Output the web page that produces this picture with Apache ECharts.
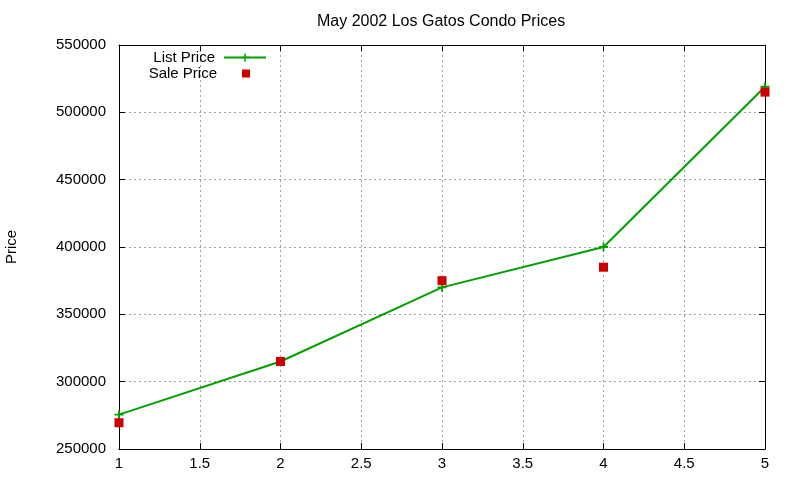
<!DOCTYPE html>
<html>
<head>
<meta charset="utf-8">
<script src="https://cdn.jsdelivr.net/npm/echarts@6/dist/echarts.min.js"></script>
<style>
  html, body { margin: 0; padding: 0; background: #fff; }
  #chart { width: 800px; height: 480px; }
</style>
</head>
<body>
<div id="chart"></div>
<script>
// condo prices
const units = [1, 2, 3, 4, 5]
const listPrice = [275500, 315000, 370000, 400000, 519000]
const salePrice = [269500, 315000, 375000, 385000, 515000]

const FONT = '"Liberation Sans", Arial, sans-serif'
const plus = 'path://M4,0h2v4h4v2h-4v4h-2v-4h-4v-2h4z'

let chart = echarts.init(document.getElementById('chart'))

let gridLine = {
    show: true,
    lineStyle: { color: '#a0a0a0', type: [2, 3], width: 1 }
}
let mirror = {
    axisLine: { show: true, lineStyle: { color: '#000' } },
    axisTick: { show: true, inside: true, length: 6, lineStyle: { color: '#000' } },
    axisLabel: { show: false },
    splitLine: { show: false }
}

let option = {
    animation: false,
    backgroundColor: '#fff',
    title: {
        text: 'May 2002 Los Gatos Condo Prices',
        left: 312,
        top: 9,
        textStyle: { fontFamily: FONT, fontSize: 16, fontWeight: 'normal', color: '#000' }
    },
    legend: [{
        data: ['List Price'],
        right: 533,
        top: 50,
        align: 'right',
        itemWidth: 42,
        itemHeight: 10,
        padding: 0,
        textStyle: { fontFamily: FONT, fontSize: 15, color: '#000', padding: [0, 4, 0, 0] }
    }, {
        data: ['Sale Price'],
        right: 550,
        top: 66,
        align: 'right',
        itemWidth: 8,
        itemHeight: 8,
        padding: 0,
        textStyle: { fontFamily: FONT, fontSize: 15, color: '#000', padding: [0, 20, 0, 0] }
    }],
    grid: { left: 119, right: 35, top: 45, bottom: 31, outerBoundsMode: 'none', containLabel: false },
    xAxis: [{
        type: 'value',
        min: 1, max: 5, interval: 0.5,
        axisLine: { show: true, onZero: false, lineStyle: { color: '#000' } },
        axisTick: { show: true, inside: true, length: 6, lineStyle: { color: '#000' } },
        axisLabel: { fontFamily: FONT, fontSize: 15, color: '#000', margin: 7 },
        splitLine: gridLine
    }, Object.assign({ type: 'value', position: 'top', min: 1, max: 5, interval: 0.5 }, mirror)],
    yAxis: [{
        type: 'value',
        min: 250000, max: 550000, interval: 50000,
        name: 'Price',
        nameLocation: 'middle',
        nameGap: 100,
        nameTextStyle: { fontFamily: FONT, fontSize: 15, color: '#000' },
        axisLine: { show: true, onZero: false, lineStyle: { color: '#000' } },
        axisTick: { show: true, inside: true, length: 6, lineStyle: { color: '#000' } },
        axisLabel: {
            fontFamily: FONT, fontSize: 15, color: '#000', margin: 13,
            formatter: v => String(v)
        },
        splitLine: gridLine
    }, Object.assign({ type: 'value', position: 'right', min: 250000, max: 550000, interval: 50000 }, mirror)],
    series: [{
        name: 'List Price',
        type: 'line',
        data: units.map((u, i) => [u, listPrice[i]]),
        symbol: plus,
        symbolSize: 9,
        showAllSymbol: true,
        lineStyle: { color: '#00a000', width: 2 },
        itemStyle: { color: '#00a000' }
    }, {
        name: 'Sale Price',
        type: 'scatter',
        data: units.map((u, i) => [u, salePrice[i]]),
        symbol: 'rect',
        symbolSize: 9,
        itemStyle: { color: '#cc0000', opacity: 1 },
        z: 3
    }]
}

chart.setOption(option)
</script>
</body>
</html>
